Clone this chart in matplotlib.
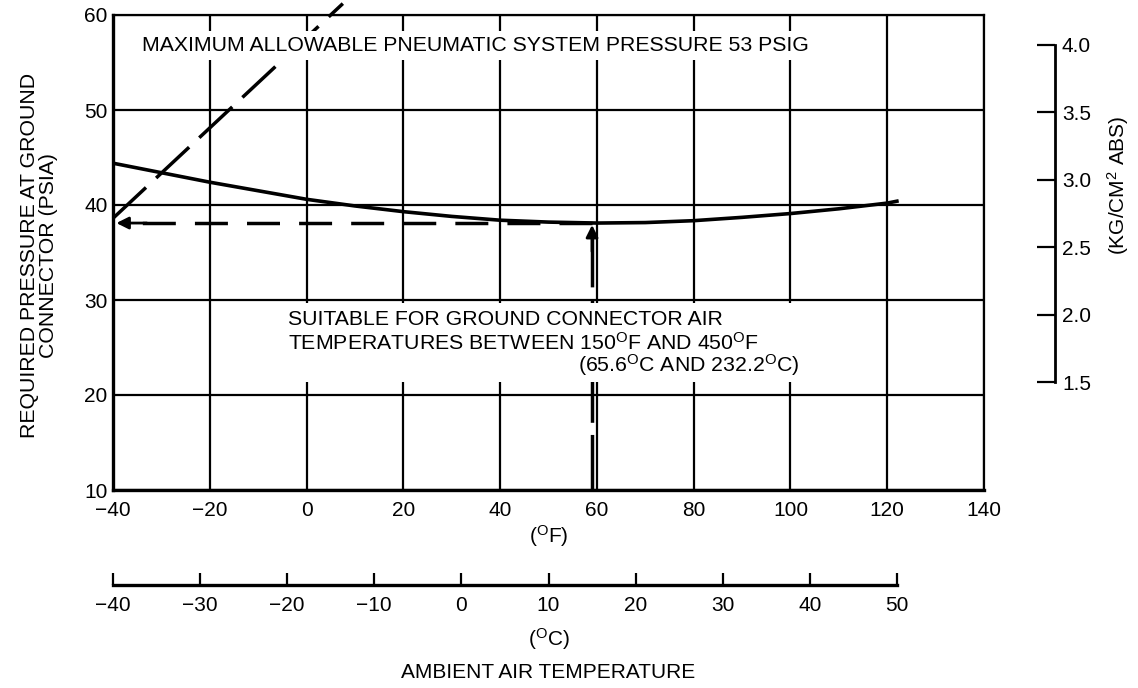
import numpy as np
import matplotlib.pyplot as plt
from matplotlib.patches import Rectangle

plt.rcParams['font.family'] = 'Liberation Sans'
plt.rcParams['mathtext.fontset'] = 'custom'
plt.rcParams['mathtext.rm'] = 'Liberation Sans'
plt.rcParams['mathtext.it'] = 'Liberation Sans'
plt.rcParams['mathtext.bf'] = 'Liberation Sans:bold'

# required pressure at ground connector vs ambient temp
temp_f = [-40, -30, -20, -10, 0, 10, 20, 30, 40, 50, 60, 70, 80, 90, 100, 110, 120, 122]
psia = [44.4, 43.4, 42.4, 41.5, 40.6, 39.9, 39.3, 38.8, 38.4, 38.2, 38.1, 38.15,
        38.35, 38.7, 39.1, 39.6, 40.2, 40.4]

# maximum allowable pneumatic system pressure line
max_f = [-40, 7.5]
max_psia = [38.6, 61.2]

# worked example
design_f = 59
design_psia = 38.1

x_ticks = [-40, -20, 0, 20, 40, 60, 80, 100, 120, 140]
y_ticks = [10, 20, 30, 40, 50, 60]
kg_ticks = [1.5, 2.0, 2.5, 3.0, 3.5, 4.0]
c_ticks = [-40, -30, -20, -10, 0, 10, 20, 30, 40, 50]

PSI_PER_KG = 14.223
FS = 15        # tick labels
FT = 15.3      # notes

fig = plt.figure(figsize=(11.38, 6.88), dpi=100)
ax = fig.add_axes([113/1138, 198/688, 871/1138, 475/688])
ax.set_xlim(-40, 140)
ax.set_ylim(10, 60)
ax.set_xticks(x_ticks)
ax.set_yticks(y_ticks)
ax.grid(True, color='black', lw=1.6, zorder=1)
ax.set_axisbelow(True)
ax.tick_params(length=0, labelsize=FS)
ax.tick_params(axis='x', pad=8)
ax.tick_params(axis='y', pad=4)
for s in ['left', 'bottom']:
    ax.spines[s].set_linewidth(2.4)
for s in ['top', 'right']:
    ax.spines[s].set_linewidth(1.6)

# curves
ax.plot(temp_f, psia, color='black', lw=2.6, zorder=3)
ax.plot(max_f, max_psia, color='black', lw=2.5, dashes=(13, 4), zorder=3, clip_on=False)

# example arrows
ax.plot([design_f, -38], [design_psia, design_psia], color='black', lw=2.5, dashes=(9.5, 5.5), zorder=3)
ax.plot([design_f, design_f], [10, design_psia - 1.5], color='black', lw=2.5, dashes=(16, 3.5), zorder=3)
ax.annotate('', xy=(-39.3, design_psia), xytext=(-33, design_psia),
            arrowprops=dict(arrowstyle='-|>', color='black', lw=2, mutation_scale=18,
                            shrinkA=0, shrinkB=0), zorder=4)
ax.annotate('', xy=(design_f, design_psia - 0.2), xytext=(design_f, design_psia - 3),
            arrowprops=dict(arrowstyle='-|>', color='black', lw=2, mutation_scale=18,
                            shrinkA=0, shrinkB=0), zorder=4)

# text notes
ax.text(-34, 56.8, 'MAXIMUM ALLOWABLE PNEUMATIC SYSTEM PRESSURE 53 PSIG', fontsize=FT,
        ha='left', va='center', zorder=5,
        bbox=dict(boxstyle='square,pad=0.25', fc='white', ec='none'))

ax.add_patch(Rectangle((-4.5, 21.4), 108.5, 8.3, fc='white', ec='none', zorder=3.5))
ax.text(-3.8, 27.9, 'SUITABLE FOR GROUND CONNECTOR AIR', fontsize=FT,
        ha='left', va='center', zorder=5)
ax.text(-3.8, 25.5, r'TEMPERATURES BETWEEN 150$^{\rm O}$F AND 450$^{\rm O}$F', fontsize=FT,
        ha='left', va='center', zorder=5)
ax.text(56.1, 23.1, r'(65.6$^{\rm O}$C AND 232.2$^{\rm O}$C)', fontsize=FT,
        ha='left', va='center', zorder=5)

ax.set_xlabel(r'($^{\rm O}$F)', fontsize=FS, labelpad=2)

# kg/cm2 scale on the right
sec = ax.secondary_yaxis(1.0815, functions=(lambda p: p / PSI_PER_KG, lambda k: k * PSI_PER_KG))
sec.set_yticks(kg_ticks)
sec.yaxis.set_major_formatter('{x:.1f}')
sec.spines['right'].set_bounds(1.5, 4.0)
sec.spines['right'].set_linewidth(2)
sec.tick_params(direction='in', length=13, width=1.6, pad=5, labelsize=FS)

# celsius scale below
secx = ax.secondary_xaxis(-0.2, functions=(lambda f: (f - 32) * 5 / 9, lambda c: c * 9 / 5 + 32))
secx.set_xticks(c_ticks)
secx.spines['bottom'].set_bounds(-40, 50)
secx.spines['bottom'].set_linewidth(2.4)
secx.tick_params(direction='in', length=9, width=1.6, pad=8, labelsize=FS)
secx.set_xlabel(r'($^{\rm O}$C)', fontsize=FS, labelpad=8)

fig.text(548/1138, 1 - 672/688, 'AMBIENT AIR TEMPERATURE', fontsize=FS, ha='center', va='center')
fig.text(39/1138, 1 - 255/688, 'REQUIRED PRESSURE AT GROUND\nCONNECTOR (PSIA)', fontsize=FT,
         rotation=90, ha='center', va='center', multialignment='center', linespacing=0.95)
fig.text(1118/1138, 1 - 185/688, r'(KG/CM$^2$ ABS)', fontsize=FS,
         rotation=90, ha='center', va='center')

fig.savefig('out.png', dpi=100)
